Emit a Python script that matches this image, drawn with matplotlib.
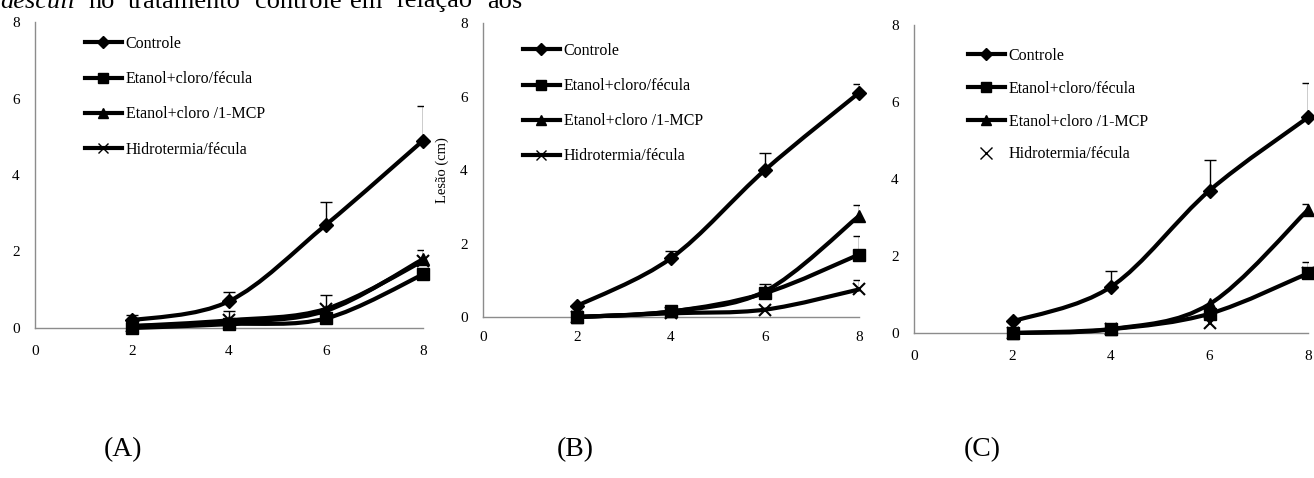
import numpy as np
import matplotlib.pyplot as plt
from matplotlib.path import Path
from matplotlib.patches import PathPatch
from matplotlib.lines import Line2D

plt.rcParams['font.family'] = ['Liberation Serif', 'DejaVu Serif']

days = [2, 4, 6, 8]
labels = ['Controle', 'Etanol+cloro/fécula', 'Etanol+cloro /1-MCP', 'Hidrotermia/fécula']

# panel A
a_controle = [0.2, 0.7, 2.7, 4.9]
a_fecula = [0.0, 0.1, 0.25, 1.4]
a_mcp = [0.05, 0.15, 0.45, 1.8]
a_hidro = [0.05, 0.2, 0.5, 1.75]
a_err_controle = [0.15, 0.25, 0.6, 0.9]
a_err_fecula = [0, 0, 0, 0]
a_err_mcp = [0, 0.3, 0.4, 0.25]
a_err_hidro = [0, 0, 0, 0]

# panel B
b_controle = [0.3, 1.6, 4.0, 6.1]
b_fecula = [0.0, 0.15, 0.65, 1.7]
b_mcp = [0.0, 0.15, 0.7, 2.75]
b_hidro = [0.0, 0.1, 0.2, 0.75]
b_err_controle = [0, 0.2, 0.45, 0.25]
b_err_fecula = [0, 0, 0.25, 0.5]
b_err_mcp = [0, 0, 0, 0.3]
b_err_hidro = [0, 0, 0, 0.27]

# panel C
c_controle = [0.3, 1.2, 3.7, 5.6]
c_fecula = [0.0, 0.1, 0.5, 1.55]
c_mcp = [0.0, 0.1, 0.75, 3.2]
c_hidro = [0.0, 0.1, 0.25, 1.55]
c_err_controle = [0, 0.4, 0.8, 0.9]
c_err_fecula = [0, 0, 0, 0.3]
c_err_mcp = [0, 0, 0, 0.15]
c_err_hidro = [0, 0, 0, 0]

markers = ['D', 's', '^', 'x']
msizes = [7, 8, 8, 8]
GREY = '#8c8c8c'


def smooth_path(x, y):
    # excel style smoothed line (catmull-rom as bezier)
    pts = np.column_stack([x, y]).astype(float)
    n = len(pts)
    verts = [pts[0]]
    codes = [Path.MOVETO]
    for i in range(n - 1):
        p0 = pts[i - 1] if i > 0 else pts[i]
        p1 = pts[i]
        p2 = pts[i + 1]
        p3 = pts[i + 2] if i + 2 < n else pts[i + 1]
        verts += [p1 + (p2 - p0) / 6, p2 - (p3 - p1) / 6, p2]
        codes += [Path.CURVE4] * 3
    return Path(verts, codes)


def panel(fig, rect, series, errs, xpad, leg_xy, leg_space, no_line=()):
    ax = fig.add_axes(rect)
    for k, (y, e) in enumerate(zip(series, errs)):
        y = np.array(y)
        e = np.array(e)
        if k not in no_line:
            ax.add_patch(PathPatch(smooth_path(days, y), fill=False, ec='k', lw=3,
                                   capstyle='round', zorder=3, clip_on=False))
        m = e > 0
        d = np.array(days)
        ax.vlines(d[m], y[m], y[m] + e[m], color='k', lw=1, zorder=2)
        ax.plot(d[m], y[m] + e[m], ls='none', marker='_', ms=8, mew=1, color='k', zorder=2)
        ax.plot(days, y, ls='none', marker=markers[k], ms=msizes[k], color='k',
                mew=1.5 if markers[k] == 'x' else 1, zorder=4, clip_on=False)
    ax.set_xlim(0, 8)
    ax.set_ylim(0, 8)
    ax.set_xticks([0, 2, 4, 6, 8])
    ax.set_yticks([0, 2, 4, 6, 8])
    for s in ['top', 'right']:
        ax.spines[s].set_visible(False)
    for s in ['left', 'bottom']:
        ax.spines[s].set_color(GREY)
        ax.spines[s].set_linewidth(1)
    ax.tick_params(axis='y', length=0, pad=11, labelsize=11)
    ax.tick_params(axis='x', length=0, pad=xpad, labelsize=11)

    handles = []
    for k in range(4):
        if k in no_line:
            handles.append(Line2D([], [], ls='none', marker='x', ms=9, mew=1, color='k'))
        else:
            handles.append(Line2D([], [], color='k', lw=3, marker=markers[k],
                                  ms=msizes[k] - 1, mew=1))
    ax.legend(handles, labels, loc='upper left', bbox_to_anchor=leg_xy,
              bbox_transform=fig.transFigure, frameon=False, fontsize=11.5,
              borderpad=0, borderaxespad=0, handlelength=2.3, handletextpad=0.25,
              labelspacing=leg_space)
    return ax


W, H = 1314, 478
fig = plt.figure(figsize=(W / 100, H / 100), dpi=100)


def frect(x0, x1, y0, y1):
    return [x0 / W, 1 - y0 / H, (x1 - x0) / W, (y0 - y1) / H]


panel(fig, frect(35, 423, 328, 22),
      [a_controle, a_fecula, a_mcp, a_hidro],
      [a_err_controle, a_err_fecula, a_err_mcp, a_err_hidro],
      12, (85 / W, 1 - 36 / H), 1.2)

axb = panel(fig, frect(483, 859, 317, 23),
            [b_controle, b_fecula, b_mcp, b_hidro],
            [b_err_controle, b_err_fecula, b_err_mcp, b_err_hidro],
            10, (523 / W, 1 - 43 / H), 1.2)
axb.set_ylabel('Lesão (cm)', fontsize=10.5)
axb.yaxis.set_label_coords(-0.09, 0.5)

panel(fig, frect(914, 1308, 333, 25),
      [c_controle, c_fecula, c_mcp, c_hidro],
      [c_err_controle, c_err_fecula, c_err_mcp, c_err_hidro],
      12, (968 / W, 1 - 48 / H), 1.05, no_line=(3,))

# panel captions
for xp, t in [(123, '(A)'), (575, '(B)'), (982, '(C)')]:
    fig.text(xp / W, 1 - 450 / H, t, fontsize=20, ha='center', va='center')

# cut-off body text above the figure
words = [(0, 'desculi', 'italic'), (88, 'no', 'normal'), (128, 'tratamento', 'normal'),
         (255, 'controle', 'normal'), (350, 'em', 'normal'), (397, 'relação', 'normal'),
         (487, 'aos', 'normal')]
for xp, w, st in words:
    fig.text(xp / W, 1 - 7.5 / H, w, fontsize=19, style=st, ha='left', va='baseline')

fig.savefig('out.png', dpi=100)
